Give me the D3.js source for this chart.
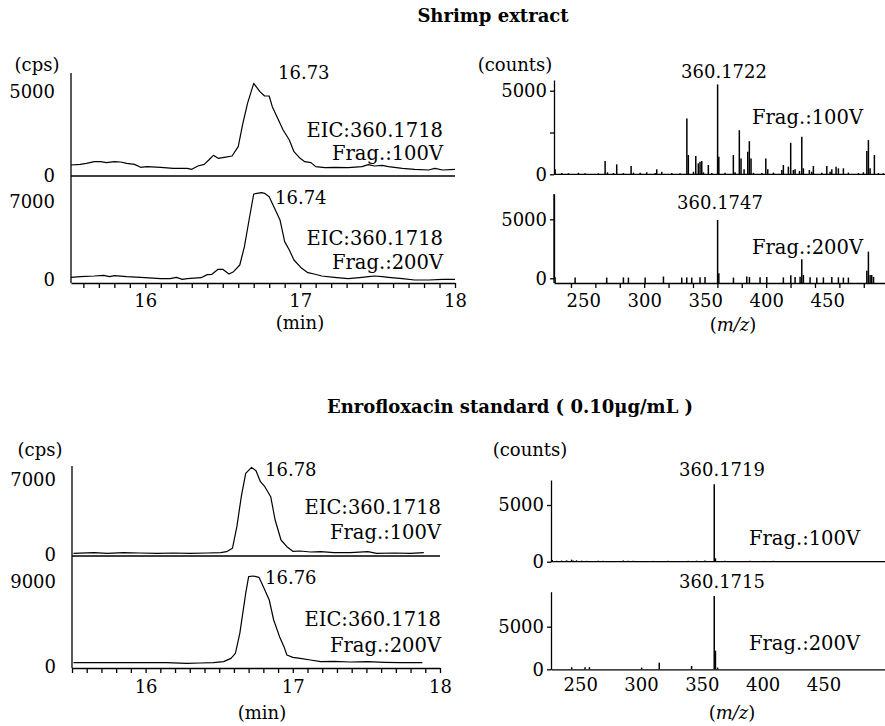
<!DOCTYPE html>
<html lang="en">
<head>
<meta charset="UTF-8">
<title>EIC y espectros - Enrofloxacin</title>
<style>
  body { margin: 0; background: #fff; }
  svg text { font-family: "DejaVu Serif", serif; font-size: 18px; fill: #000; }
  svg text.titulo { font-weight: bold; font-size: 18px; }
  svg text.nota { font-size: 19.5px; }
  .eje path, .eje line { stroke: #000; stroke-width: 1.3; }
</style>
<script src="https://d3js.org/d3.v7.min.js"></script>
</head>
<body>
<script>
// ---- Datos ----
// Cromatogramas EIC: [tiempo (min), intensidad (cps)]
var eicShrimp100 = [[15.52,655],[15.58,694],[15.62,754],[15.67,853],[15.71,853],[15.75,794],[15.80,853],[15.84,833],[15.88,754],[15.93,694],[15.97,516],[16.01,556],[16.10,516],[16.18,456],[16.27,456],[16.30,397],[16.34,595],[16.38,694],[16.41,952],[16.44,1230],[16.47,1052],[16.51,1111],[16.56,1190],[16.60,1746],[16.63,3135],[16.66,4325],[16.70,5516],[16.74,5020],[16.77,4762],[16.80,4762],[16.82,4127],[16.86,3333],[16.89,2738],[16.93,2143],[16.96,1448],[17.00,1052],[17.03,853],[17.07,794],[17.10,556],[17.16,496],[17.22,516],[17.31,496],[17.40,556],[17.44,675],[17.48,595],[17.53,635],[17.57,556],[17.66,456],[17.74,397],[17.83,357],[17.87,456],[17.92,357],[18.00,397]];
var eicShrimp200 = [[15.52,239],[15.58,299],[15.67,359],[15.73,419],[15.77,299],[15.80,389],[15.88,299],[15.97,239],[16.10,120],[16.16,120],[16.20,239],[16.24,60],[16.27,120],[16.36,209],[16.40,479],[16.43,508],[16.47,957],[16.50,957],[16.54,538],[16.57,748],[16.61,1346],[16.64,2991],[16.67,5384],[16.70,7717],[16.75,7836],[16.77,7777],[16.80,7478],[16.83,6580],[16.87,5384],[16.90,3440],[16.93,2692],[16.96,1795],[17.01,1047],[17.05,658],[17.09,538],[17.14,359],[17.22,239],[17.31,120],[17.40,239],[17.44,299],[17.48,359],[17.53,299],[17.57,239],[17.66,120],[17.74,0],[17.83,0],[17.92,60],[18.00,60]];
var eicStd100 = [[15.51,156],[15.65,218],[15.74,156],[15.85,218],[15.96,187],[16.08,156],[16.19,187],[16.30,156],[16.42,187],[16.51,218],[16.55,311],[16.59,622],[16.62,2644],[16.65,5443],[16.68,7620],[16.72,8179],[16.75,7868],[16.78,6842],[16.81,6376],[16.85,5443],[16.88,3266],[16.92,1400],[16.96,778],[17.00,342],[17.05,373],[17.12,280],[17.19,311],[17.28,218],[17.39,218],[17.51,311],[17.57,156],[17.69,187],[17.80,156],[17.89,218]];
var eicStd200 = [[15.51,457],[15.69,457],[15.92,457],[16.14,457],[16.28,387],[16.37,422],[16.46,457],[16.53,563],[16.58,914],[16.61,1442],[16.64,3552],[16.68,7773],[16.70,9531],[16.73,9601],[16.77,9461],[16.80,8476],[16.84,7069],[16.87,4959],[16.91,3200],[16.94,2145],[16.96,1266],[17.00,1020],[17.05,914],[17.12,739],[17.19,563],[17.28,598],[17.39,528],[17.51,563],[17.62,492],[17.73,457],[17.88,457]];

// Espectros de masas: [m/z, counts]
var msShrimp100 = [[227,300],[232.5,80],[237.9,60],[246.1,90],[251.6,70],[262.5,60],[268,794],[269.9,120],[274.8,80],[277.5,595],[283,70],[289.3,496],[291.2,100],[296.7,90],[302.1,120],[309,80],[310.3,298],[314.4,150],[322.6,70],[329.4,60],[335,3333],[336.2,1151],[340.4,150],[342.3,1091],[344.4,655],[345.8,754],[347.2,794],[348.6,120],[352.6,556],[355.4,80],[360.2,5377],[361.2,1052],[366.3,100],[373.1,1151],[374.5,120],[378,2639],[379.4,952],[381.9,298],[384.9,1349],[386.2,1984],[387.6,952],[389.6,90],[396.4,80],[399.7,952],[401.3,298],[406,100],[412.8,250],[414.1,556],[418.2,456],[420.1,1885],[422.3,258],[423.7,300],[427.3,200],[429.2,2242],[430.5,357],[435.4,258],[437.4,150],[438.7,496],[445.6,90],[449.7,496],[452.4,150],[453.8,298],[457.3,456],[459.2,357],[463.3,357],[467.4,100],[475.6,80],[479.7,120],[482.5,1389],[483.8,2044],[485.2,357],[488.7,1151],[492,70],[496.1,60]];
var msShrimp200 = [[227,80],[243.4,60],[269.3,60],[283,80],[287.1,60],[300.8,60],[315.8,150],[330.8,60],[334.9,80],[339,60],[345.8,80],[349.9,120],[360.2,4944],[361.2,424],[373.2,60],[384.1,150],[386.3,100],[395,80],[400.5,120],[414.1,80],[420.2,250],[423.7,120],[427.8,141],[429.2,1610],[430.5,282],[436,80],[441.5,60],[446.9,80],[453.8,100],[459.2,80],[463.3,60],[467.4,60],[482.5,650],[483.8,2260],[485.2,282],[486.5,282],[488,120]];
var msStd100 = [[227,150],[230.6,80],[234.7,100],[238.8,120],[242.9,180],[244.3,100],[247,120],[251.2,90],[255.3,80],[264.9,90],[269,80],[285.4,100],[289.5,90],[293.6,80],[310.1,70],[322.4,80],[326.5,70],[338.9,80],[345.7,90],[352.6,100],[360.2,6825],[361.2,300],[369,80],[381.4,70],[389.6,80],[400.6,70],[408.8,80]];
var msStd200 = [[243,234],[254,250],[257.6,250],[300.5,200],[315,780],[341.6,390],[360.2,8600],[361.2,2186],[363,200]];

// Etiquetas
var titulos = ["Shrimp extract", "Enrofloxacin standard ( 0.10\u03bcg/mL )"];
var picosEIC = ["16.73", "16.74", "16.78", "16.76"];
var picosMS = ["360.1722", "360.1747", "360.1719", "360.1715"];
var eicLabel = "EIC:360.1718";
var fragLabels = ["Frag.:100V", "Frag.:200V"];
var ticksMin = [16, 17, 18];
var ticksMz = [250, 300, 350, 400, 450];

var svg = d3.select("body").append("svg")
    .attr("width", 885)
    .attr("height", 726);

function texto(x, y, s, anchor, cls) {
  return svg.append("text")
    .attr("x", x).attr("y", y).attr("dy", "0.35em")
    .attr("text-anchor", anchor || "middle")
    .attr("class", cls || null)
    .text(s);
}

function textoMz(x, y) {
  var t = svg.append("text").attr("x", x).attr("y", y).attr("dy", "0.35em")
    .attr("text-anchor", "middle");
  t.append("tspan").text("(");
  t.append("tspan").attr("font-style", "italic").text("m/z");
  t.append("tspan").text(")");
}

function trazo(datos, x, y) {
  svg.append("path").datum(datos)
    .attr("fill", "none").attr("stroke", "#000").attr("stroke-width", 1.2)
    .attr("stroke-linejoin", "round")
    .attr("d", d3.line().x(function(d) { return x(d[0]); }).y(function(d) { return y(d[1]); }));
}

function barras(datos, x, y, base) {
  svg.append("g").selectAll("line").data(datos).join("line")
    .attr("x1", function(d) { return x(d[0]); })
    .attr("x2", function(d) { return x(d[0]); })
    .attr("y1", base)
    .attr("y2", function(d) { return y(d[1]); })
    .attr("stroke", "#000").attr("stroke-width", 1.5);
}

// eje Y sin marcas (cromatogramas)
function ejeY(x, y, valores) {
  svg.append("g").attr("class", "eje")
    .attr("transform", "translate(" + x + ",0)")
    .call(d3.axisLeft(y).tickValues(valores).tickSize(0).tickPadding(16).tickFormat(d3.format("d")))
    .call(function(g) { g.select(".domain").remove(); });
}

// eje Y con marcas (espectros)
function ejeYms(x, y, valores, etiquetas) {
  svg.append("g").attr("class", "eje")
    .attr("transform", "translate(" + x + ",0)")
    .call(d3.axisLeft(y).tickValues(valores).tickSize(4).tickSizeOuter(0).tickPadding(3)
      .tickFormat(function(d) { return etiquetas.indexOf(d) >= 0 ? d3.format("d")(d) : ""; }));
}

function lineaH(x1, x2, y) {
  svg.append("line").attr("x1", x1).attr("x2", x2).attr("y1", y).attr("y2", y)
    .attr("stroke", "#000").attr("stroke-width", 1.3);
}
function lineaV(x, y1, y2) {
  svg.append("line").attr("x1", x).attr("x2", x).attr("y1", y1).attr("y2", y2)
    .attr("stroke", "#000").attr("stroke-width", 1.3);
}

texto(493, 16, titulos[0], "middle", "titulo");
texto(510, 407, titulos[1], "middle", "titulo");

// ---------- Arriba izquierda: EIC muestra ----------
var xTL = d3.scaleLinear().domain([15.52, 18.0]).range([71, 455]);
var yTL1 = d3.scaleLinear().domain([0, 6130]).range([176, 73]);
var yTL2 = d3.scaleLinear().domain([0, 9333]).range([280, 176]);
lineaV(71, 73, 283);
lineaH(71, 455, 176);
ejeY(71, yTL1, [0, 5000]);
ejeY(71, yTL2, [0, 7000]);
svg.append("g").attr("class", "eje").attr("transform", "translate(0,283)")
  .call(d3.axisBottom(xTL).tickValues(d3.range(156, 181).map(function(d) { return d / 10; }))
    .tickSize(5).tickSizeOuter(0).tickPadding(6)
    .tickFormat(function(d) { return ticksMin.indexOf(d) >= 0 ? d : ""; }));
trazo(eicShrimp100, xTL, yTL1);
trazo(eicShrimp200, xTL, yTL2);
texto(37, 65, "(cps)");
texto(278, 73, picosEIC[0], "start");
texto(443, 130, eicLabel, "end", "nota");
texto(443, 153, fragLabels[0], "end", "nota");
texto(275, 198, picosEIC[1], "start");
texto(443, 238, eicLabel, "end", "nota");
texto(443, 262, fragLabels[1], "end", "nota");
texto(300, 323, "(min)");

// ---------- Arriba derecha: espectros muestra ----------
var xTR = d3.scaleLinear().domain([226.1, 497.4]).range([554, 885]);
var yTR1 = d3.scaleLinear().domain([0, 5640]).range([174.3, 80]);
var yTR2 = d3.scaleLinear().domain([0, 7144]).range([278.3, 194]);
lineaH(554, 885, 174.3);
lineaV(554, 194, 283);
ejeYms(554, yTR1, [0, 2500, 5000], [0, 5000]);
ejeYms(554, yTR2, [0, 5000], [0, 5000]);
svg.append("g").attr("class", "eje").attr("transform", "translate(0,283)")
  .call(d3.axisBottom(xTR).tickValues(d3.range(240, 481, 20)).tickSize(5).tickSizeOuter(0).tickFormat(""));
svg.append("g").attr("class", "eje").attr("transform", "translate(0,283)")
  .call(d3.axisBottom(xTR).tickValues(ticksMz).tickSize(0).tickPadding(11))
  .call(function(g) { g.select(".domain").remove(); });
barras(msShrimp100, xTR, yTR1, 174.3);
barras(msShrimp200, xTR, yTR2, 283);
texto(515, 65, "(counts)");
texto(724, 72, picosMS[0]);
texto(863, 117, fragLabels[0], "end", "nota");
texto(720, 203, picosMS[1]);
texto(863, 247, fragLabels[1], "end", "nota");
textoMz(733, 325);

// ---------- Abajo izquierda: EIC patron ----------
var xBL = d3.scaleLinear().domain([15.5, 18.0]).range([72, 440]);
var yBL1 = d3.scaleLinear().domain([0, 8307]).range([555, 466]);
var yBL2 = d3.scaleLinear().domain([0, 11712]).range([667, 556]);
lineaV(72, 466, 668);
lineaH(72, 440, 556);
ejeY(72, yBL1, [0, 7000]);
ejeY(72, yBL2, [0, 9000]);
svg.append("g").attr("class", "eje").attr("transform", "translate(0,668)")
  .call(d3.axisBottom(xBL).tickValues(d3.range(155, 181).map(function(d) { return d / 10; }))
    .tickSize(5).tickSizeOuter(0).tickPadding(7)
    .tickFormat(function(d) { return ticksMin.indexOf(d) >= 0 ? d : ""; }));
trazo(eicStd100, xBL, yBL1);
trazo(eicStd200, xBL, yBL2);
texto(40, 450, "(cps)");
texto(265, 470, picosEIC[2], "start");
texto(441, 507, eicLabel, "end", "nota");
texto(441, 532, fragLabels[0], "end", "nota");
texto(265, 578, picosEIC[3], "start");
texto(441, 619, eicLabel, "end", "nota");
texto(441, 645, fragLabels[1], "end", "nota");
texto(262, 713, "(min)");

// ---------- Abajo derecha: espectros patron ----------
var xBR = d3.scaleLinear().domain([226, 500.6]).range([551, 885]);
var yBR1 = d3.scaleLinear().domain([0, 7205]).range([561.7, 480]);
var yBR2 = d3.scaleLinear().domain([0, 9108]).range([669.3, 591.7]);
lineaH(551, 885, 561.7);
ejeYms(551, yBR1, [0, 5000], [0, 5000]);
ejeYms(551, yBR2, [0, 5000], [0, 5000]);
svg.append("g").attr("class", "eje").attr("transform", "translate(0,669.3)")
  .call(d3.axisBottom(xBR).tickValues(ticksMz).tickSize(0).tickPadding(9));
barras(msStd100, xBR, yBR1, 561.7);
barras(msStd200, xBR, yBR2, 669.3);
texto(530, 450, "(counts)");
texto(722, 470, picosMS[2]);
texto(860, 538, fragLabels[0], "end", "nota");
texto(722, 582, picosMS[3]);
texto(860, 643, fragLabels[1], "end", "nota");
textoMz(732, 713);
</script>
</body>
</html>
